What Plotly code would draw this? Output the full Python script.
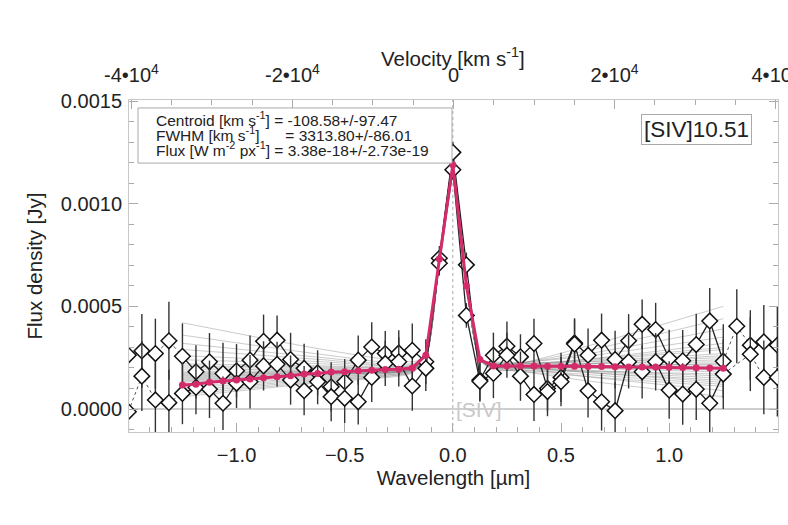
import plotly.graph_objects as go

# ---------------- data ----------------
wavelength = [-1.5, -1.4375, -1.375, -1.3125, -1.25, -1.1875, -1.125, -1.0625, -1.0,
              -0.9375, -0.875, -0.8125, -0.75, -0.6875, -0.625, -0.5625, -0.5, -0.4375,
              -0.375, -0.3125, -0.25, -0.1875, -0.125, -0.0625, 0.0, 0.0625, 0.125,
              0.1875, 0.25, 0.3125, 0.375, 0.4375, 0.5, 0.5625, 0.625, 0.6875, 0.75,
              0.8125, 0.875, 0.9375, 1.0, 1.0625, 1.125, 1.1875, 1.25, 1.3125, 1.375,
              1.4375, 1.5]

flux_a = [2.62e-4, 2.83e-4, 2.70e-4, 3.32e-4, 2.57e-4, 1.81e-4, 2.30e-4, 1.73e-4, 1.86e-4,
          2.38e-4, 3.30e-4, 3.35e-4, 2.41e-4, 1.98e-4, 1.76e-4, 1.08e-4, 1.33e-4, 2.38e-4,
          3.02e-4, 2.70e-4, 2.73e-4, 2.86e-4, 2.30e-4, 7.34e-4, 12.5e-4, 7.02e-4, 1.41e-4,
          2.62e-4, 3.06e-4, 2.54e-4, 3.19e-4, 1.00e-4, 1.54e-4, 3.22e-4, 2.62e-4, 3.35e-4,
          2.41e-4, 3.32e-4, 4.13e-4, 3.87e-4, 2.46e-4, 2.35e-4, 3.14e-4, 4.29e-4, 2.33e-4,
          4.03e-4, 3.11e-4, 3.27e-4, 3.11e-4]
flux_b = [-0.13e-4, 1.60e-4, 0.44e-4, 0.31e-4, 0.76e-4, 1.05e-4, 0.96e-4, 0.28e-4, 1.25e-4,
          1.33e-4, 2.10e-4, 2.18e-4, 1.41e-4, 0.89e-4, 1.33e-4, 0.60e-4, 0.52e-4, 0.35e-4,
          1.54e-4, 2.22e-4, 2.30e-4, 1.12e-4, 1.98e-4, 7.10e-4, 11.65e-4, 4.56e-4, 1.35e-4,
          1.73e-4, 2.62e-4, 1.60e-4, 0.71e-4, 0.85e-4, 1.33e-4, 3.16e-4, 0.89e-4, 0.35e-4,
          -0.08e-4, 2.30e-4, 1.81e-4, 2.30e-4, 0.92e-4, 0.73e-4, 0.96e-4, 0.28e-4, 1.70e-4,
          None, 2.67e-4, 1.54e-4, 1.54e-4]
err_a = [2.0e-4, 1.8e-4, 1.7e-4, 1.9e-4, 1.6e-4, 1.3e-4, 1.4e-4, 1.5e-4, 1.3e-4,
         1.2e-4, 1.3e-4, 1.2e-4, 1.3e-4, 1.2e-4, 1.1e-4, 1.2e-4, 1.1e-4, 1.2e-4,
         1.2e-4, 1.1e-4, 1.1e-4, 1.3e-4, 1.1e-4, 0.6e-4, 0.5e-4, 0.6e-4, 1.0e-4,
         1.1e-4, 1.2e-4, 1.1e-4, 1.2e-4, 1.1e-4, 1.2e-4, 1.2e-4, 1.3e-4, 1.3e-4,
         1.4e-4, 1.3e-4, 1.2e-4, 1.3e-4, 1.4e-4, 1.5e-4, 1.5e-4, 1.6e-4, 1.8e-4,
         1.8e-4, 1.7e-4, 1.8e-4, 1.9e-4]
err_b = [1.9e-4, 1.7e-4, 1.8e-4, 1.6e-4, 1.5e-4, 1.3e-4, 1.4e-4, 1.3e-4, 1.2e-4,
         1.3e-4, 1.2e-4, 1.1e-4, 1.2e-4, 1.2e-4, 1.1e-4, 1.2e-4, 1.2e-4, 1.1e-4,
         1.2e-4, 1.1e-4, 1.2e-4, 1.2e-4, 1.1e-4, 0.6e-4, 0.5e-4, 0.6e-4, 1.0e-4,
         1.2e-4, 1.1e-4, 1.2e-4, 1.3e-4, 1.2e-4, 1.2e-4, 1.2e-4, 1.3e-4, 1.4e-4,
         1.4e-4, 1.3e-4, 1.3e-4, 1.4e-4, 1.4e-4, 1.5e-4, 1.5e-4, 1.7e-4, 1.7e-4,
         1.8e-4, 1.8e-4, 1.8e-4, 1.9e-4]

fit_wavelength = wavelength[4:45]
fit_flux = [1.17e-4, 1.21e-4, 1.30e-4, 1.36e-4, 1.41e-4, 1.46e-4, 1.52e-4, 1.57e-4, 1.62e-4,
            1.70e-4, 1.73e-4, 1.80e-4, 1.81e-4, 1.86e-4, 1.89e-4, 1.93e-4, 1.94e-4, 2.00e-4,
            2.62e-4, 7.30e-4, 11.9e-4, 6.00e-4, 2.41e-4, 2.10e-4, 2.09e-4, 2.09e-4, 2.09e-4,
            2.08e-4, 2.08e-4, 2.08e-4, 2.07e-4, 2.07e-4, 2.06e-4, 2.05e-4, 2.05e-4, 2.04e-4,
            2.03e-4, 2.02e-4, 2.01e-4, 2.00e-4, 1.98e-4]

# Monte-Carlo fit realisations (values at knots)
mc_knots = [-1.25, -0.6, -0.1875, -0.125, -0.0625, 0.0, 0.0625, 0.125, 0.1875, 0.6, 1.25]
mc_left = [4.2e-4, 3.6e-4, 3.2e-4, 2.9e-4, 2.6e-4, 2.4e-4, 2.2e-4, 2.0e-4, 1.9e-4, 1.8e-4,
           1.7e-4, 1.6e-4, 1.5e-4, 1.4e-4, 1.3e-4, 1.2e-4, 1.1e-4, 1.0e-4, 0.9e-4, 0.8e-4,
           0.7e-4, 0.6e-4, 1.35e-4, 1.55e-4, 1.75e-4, 2.1e-4, 1.65e-4, 1.45e-4]
mc_ml = [2.9e-4, 2.65e-4, 2.5e-4, 2.4e-4, 2.3e-4, 2.2e-4, 2.1e-4, 2.0e-4, 1.95e-4, 1.9e-4,
         1.85e-4, 1.8e-4, 1.75e-4, 1.7e-4, 1.65e-4, 1.6e-4, 1.55e-4, 1.5e-4, 1.45e-4, 1.4e-4,
         1.35e-4, 1.3e-4, 1.7e-4, 1.75e-4, 1.85e-4, 2.05e-4, 1.8e-4, 1.7e-4]
mc_cl = [2.3e-4, 2.2e-4, 2.15e-4, 2.1e-4, 2.1e-4, 2.05e-4, 2.05e-4, 2.0e-4, 2.0e-4, 2.0e-4,
         1.95e-4, 1.95e-4, 2.0e-4, 1.9e-4, 1.95e-4, 1.9e-4, 1.9e-4, 1.85e-4, 1.85e-4, 1.8e-4,
         1.8e-4, 1.75e-4, 1.95e-4, 1.9e-4, 2.0e-4, 2.05e-4, 1.95e-4, 1.9e-4]
mc_cr = [2.0e-4, 2.1e-4, 2.15e-4, 2.2e-4, 2.05e-4, 2.2e-4, 2.1e-4, 2.25e-4, 2.1e-4, 2.0e-4,
         2.15e-4, 2.3e-4, 2.05e-4, 2.2e-4, 1.95e-4, 2.1e-4, 2.2e-4, 2.0e-4, 2.25e-4, 2.1e-4,
         1.9e-4, 2.15e-4, 2.05e-4, 2.2e-4, 2.1e-4, 2.15e-4, 2.05e-4, 2.1e-4]
mc_mr = [3.0e-4, 2.8e-4, 2.65e-4, 2.55e-4, 2.4e-4, 2.35e-4, 2.3e-4, 2.3e-4, 2.2e-4, 2.1e-4,
         2.1e-4, 2.15e-4, 2.0e-4, 2.0e-4, 1.85e-4, 1.85e-4, 1.8e-4, 1.6e-4, 1.6e-4, 1.4e-4,
         2.2e-4, 1.9e-4, 2.2e-4, 1.8e-4, 2.05e-4, 2.4e-4, 1.7e-4, 2.1e-4]
mc_right = [5.0e-4, 4.4e-4, 3.9e-4, 3.5e-4, 3.2e-4, 2.9e-4, 2.7e-4, 2.5e-4, 2.3e-4, 2.2e-4,
            2.1e-4, 2.0e-4, 1.9e-4, 1.8e-4, 1.7e-4, 1.5e-4, 1.3e-4, 1.1e-4, 0.9e-4, 0.6e-4,
            2.6e-4, 1.6e-4, 2.4e-4, 1.4e-4, 2.0e-4, 3.0e-4, 1.2e-4, 2.2e-4]
mc_peak = [2.55e-4, 7.2e-4, 11.8e-4, 6.1e-4, 2.4e-4]

vel_ticks = [-40000, -20000, 0, 20000, 40000]
vel_labels = ["-4•10<sup>4</sup>", "-2•10<sup>4</sup>", "0", "2•10<sup>4</sup>", "4•10<sup>4</sup>"]

info_lines = ["Centroid [km s<sup>-1</sup>] = -108.58+/-97.47",
              "FWHM [km s<sup>-1</sup>]\u00a0\u00a0\u00a0\u00a0\u00a0\u00a0= 3313.80+/-86.01",
              "Flux [W m<sup>-2</sup> px<sup>-1</sup>] = 3.38e-18+/-2.73e-19"]

# ---------------- figure ----------------
FONT = "Liberation Sans, Arial, sans-serif"
fig = go.Figure()

for i in range(len(mc_left)):
    fig.add_trace(go.Scatter(
        x=mc_knots,
        y=[mc_left[i], mc_ml[i], mc_cl[i]] + mc_peak + [mc_cr[i], mc_mr[i], mc_right[i]],
        mode="lines", line=dict(color="rgba(130,130,130,0.42)", width=1, shape="spline",
                                smoothing=0.6),
        hoverinfo="skip", showlegend=False))

inner = slice(4, 45)
for flux, err in [(flux_a, err_a), (flux_b, err_b)]:
    for sl in (slice(0, 5), slice(44, 49)):
        fig.add_trace(go.Scatter(
            x=wavelength[sl], y=flux[sl], mode="lines", connectgaps=True,
            line=dict(color="#555", width=1, dash="dot"),
            showlegend=False, hoverinfo="skip"))
    fig.add_trace(go.Scatter(
        x=wavelength[inner], y=flux[inner], mode="lines",
        line=dict(color="#222", width=1.3), showlegend=False, hoverinfo="skip"))
    fig.add_trace(go.Scatter(
        x=wavelength, y=flux, mode="markers",
        error_y=dict(type="data", array=err, color="#333", thickness=1.4, width=0),
        marker=dict(symbol="diamond", size=12, color="white",
                    line=dict(color="#111", width=1.5)),
        showlegend=False))

fig.add_trace(go.Scatter(
    x=fit_wavelength, y=fit_flux, mode="lines+markers",
    line=dict(color="#d42c6b", width=3),
    marker=dict(color="#d42c6b", size=7), showlegend=False))

fig.add_trace(go.Scatter(x=[0], y=[0], xaxis="x2", mode="markers",
                         marker=dict(opacity=0), showlegend=False, hoverinfo="skip"))

fig.add_shape(type="line", xref="paper", x0=0, x1=1, yref="y", y0=0, y1=0,
              line=dict(color="#cfcfcf", width=2), layer="below")
fig.add_shape(type="line", xref="x", x0=0, x1=0, yref="paper", y0=0, y1=1,
              line=dict(color="#aaa", width=1, dash="dot"), layer="below")

# info box (plot area: x 129..778, y 100..432 px)
fig.add_shape(type="rect", xref="paper", yref="paper", x0=0.0139, x1=0.4977,
              y0=0.810, y1=0.976, line=dict(color="#aaa", width=1), fillcolor="white",
              layer="above")
for k, (line, ypx) in enumerate(zip(info_lines, [119, 134, 149])):
    fig.add_annotation(
        xref="paper", yref="paper", x=0.039, y=(432 - ypx) / 332,
        xanchor="left", yanchor="middle", align="left", showarrow=False,
        text=line, font=dict(family=FONT, size=15.5, color="#222"))

fig.add_annotation(
    xref="paper", yref="paper", x=0.875, y=0.911, xanchor="center", yanchor="middle",
    showarrow=False, text="[SIV]10.51",
    font=dict(family=FONT, size=22.5, color="#222"),
    bordercolor="#aaa", borderwidth=1, borderpad=2, bgcolor="white")
fig.add_annotation(
    xref="x", yref="y", x=0.005, y=0.0, xanchor="left", yanchor="middle",
    showarrow=False, text="[SIV]", font=dict(family=FONT, size=21, color="#c8c8c8"))
fig.add_annotation(
    xref="paper", yref="paper", x=0.4985, y=(432 - 57) / 332, xanchor="center",
    yanchor="middle", showarrow=False, text="Velocity [km s<sup>-1</sup>]",
    font=dict(family=FONT, size=20.5, color="#222"))

axis_common = dict(showgrid=False, zeroline=False, showline=True, linecolor="#c8c8c8",
                   linewidth=1, ticks="inside", tickcolor="#aaa", ticklen=9,
                   automargin=False,
                   tickfont=dict(family=FONT, size=20, color="#222"))

fig.update_layout(
    width=788, height=525, paper_bgcolor="white", plot_bgcolor="white",
    margin=dict(l=129, r=10, t=100, b=93),
    font=dict(family=FONT, color="#222"),
    hovermode=False,
    xaxis=dict(range=[-1.497, 1.503], tickmode="linear", tick0=0, dtick=0.5,
               tickformat=".1f", ticklabelstandoff=5,
               minor=dict(ticks="inside", tick0=0, dtick=0.1, ticklen=5, tickcolor="#aaa"),
               title=dict(text="Wavelength [µm]", font=dict(family=FONT, size=20.5), standoff=3),
               **axis_common),
    xaxis2=dict(overlaying="x", side="top", range=[-40300, 40300],
                tickmode="array", tickvals=vel_ticks, ticktext=vel_labels,
                ticklabeloverflow="allow", ticklabelstandoff=9,
                minor=dict(ticks="inside", tickmode="linear", tick0=0, dtick=5000,
                           ticklen=5, tickcolor="#aaa"),
                **axis_common),
    yaxis=dict(range=[-0.000112, 0.001505], tickmode="linear", tick0=0, dtick=0.0005,
               tickformat=".4f", mirror="ticks", ticklabelstandoff=2,
               minor=dict(ticks="inside", tick0=0, dtick=0.0001, ticklen=5, tickcolor="#aaa"),
               title=dict(text="Flux density [Jy]", font=dict(family=FONT, size=20.5), standoff=12),
               **axis_common),
)

fig.write_html("out.html")
